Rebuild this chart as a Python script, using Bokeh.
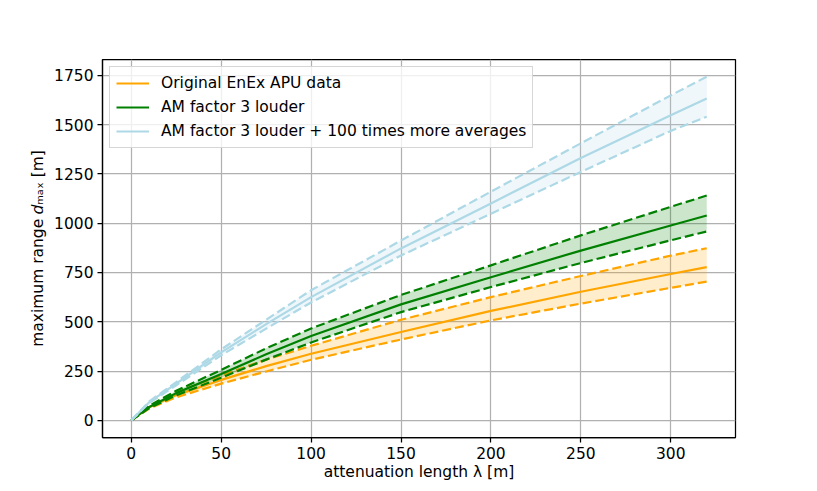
from bokeh.plotting import figure
from bokeh.models import Range1d, FixedTicker, Legend, LegendItem
from bokeh.embed import file_html
from bokeh.resources import INLINE

# attenuation length lambda [m]
lam = [0, 10, 25, 50, 75, 100, 150, 200, 250, 300, 320]

# Original EnEx APU data
orig_mean = [0, 66, 128, 205, 275, 338, 448, 555, 652, 742, 777]
orig_upper = [0, 74, 143, 228, 308, 378, 510, 625, 732, 835, 873]
orig_lower = [0, 60, 117, 186, 248, 307, 410, 507, 592, 672, 704]

# AM factor 3 louder
am_mean = [0, 68, 138, 235, 335, 428, 588, 726, 861, 988, 1039]
am_upper = [0, 74, 150, 256, 365, 466, 636, 786, 938, 1083, 1140]
am_lower = [0, 62, 127, 216, 308, 395, 549, 676, 798, 913, 958]

# AM factor 3 louder + 100 times more averages
avg_mean = [0, 92, 186, 345, 488, 625, 872, 1100, 1330, 1547, 1632]
avg_upper = [0, 96, 194, 360, 510, 660, 912, 1160, 1405, 1648, 1743]
avg_lower = [0, 88, 178, 330, 465, 598, 836, 1048, 1260, 1468, 1540]

labels = ["Original EnEx APU data", "AM factor 3 louder",
          "AM factor 3 louder + 100 times more averages"]
colors = ["orange", "green", "lightblue"]

x_ticks = [0, 50, 100, 150, 200, 250, 300]
y_ticks = [0, 250, 500, 750, 1000, 1250, 1500, 1750]

FONT = "DejaVu Sans"
FS = "15.5px"

p = figure(width=817, height=491, output_backend="svg", toolbar_location=None,
           x_range=Range1d(-16, 336), y_range=Range1d(-87, 1830),
           min_border_left=102, min_border_right=82, min_border_top=59,
           min_border_bottom=54)

p.outline_line_color = "black"
p.outline_line_width = 1.25
p.background_fill_color = "white"
p.border_fill_color = "white"

for ax in (p.xaxis[0], p.yaxis[0]):
    ax.axis_line_color = "black"
    ax.axis_line_width = 1.25
    ax.major_tick_line_color = "black"
    ax.major_tick_line_width = 1.25
    ax.major_tick_out = 5
    ax.major_tick_in = 0
    ax.minor_tick_line_color = None
    ax.major_label_text_font = FONT
    ax.major_label_text_font_size = FS
    ax.major_label_text_color = "black"
    ax.major_label_standoff = 4
    ax.axis_label_text_font = FONT
    ax.axis_label_text_font_size = FS
    ax.axis_label_text_font_style = "normal"
    ax.axis_label_text_color = "black"
    ax.axis_label_standoff = 4
p.xaxis[0].axis_label_standoff = 1

p.xaxis[0].ticker = FixedTicker(ticks=x_ticks)
p.yaxis[0].ticker = FixedTicker(ticks=y_ticks)
p.xaxis[0].axis_label = "attenuation length λ [m]"
p.yaxis[0].axis_label = "maximum range 𝑑ₘₐₓ [m]"

for g in (p.xgrid[0], p.ygrid[0]):
    g.grid_line_color = "#b0b0b0"
    g.grid_line_width = 1.25
p.xgrid[0].ticker = FixedTicker(ticks=x_ticks)
p.ygrid[0].ticker = FixedTicker(ticks=y_ticks)

series = [
    (orig_mean, orig_upper, orig_lower),
    (am_mean, am_upper, am_lower),
    (avg_mean, avg_upper, avg_lower),
]

items = []
for (mean, upper, lower), c, lab in zip(series, colors, labels):
    p.varea(x=lam, y1=lower, y2=upper, fill_color=c, fill_alpha=0.2)
    p.line(x=lam, y=upper, line_color=c, line_width=2.2, line_dash="9 4")
    p.line(x=lam, y=lower, line_color=c, line_width=2.2, line_dash="9 4")
    r = p.line(x=lam, y=mean, line_color=c, line_width=2.2)
    items.append(LegendItem(label=lab, renderers=[r]))

legend = Legend(items=items, location="top_left")
legend.margin = 7
legend.padding = 6
legend.spacing = 4
legend.glyph_width = 33
legend.glyph_height = 20
legend.label_height = 20
legend.label_standoff = 12
legend.label_text_font = FONT
legend.label_text_font_size = FS
legend.label_text_color = "black"
legend.background_fill_color = "white"
legend.background_fill_alpha = 0.8
legend.border_line_color = "#cccccc"
legend.border_line_alpha = 0.8
legend.border_line_width = 1.25
p.add_layout(legend, "center")

open("out.html", "w").write(file_html(p, INLINE))
